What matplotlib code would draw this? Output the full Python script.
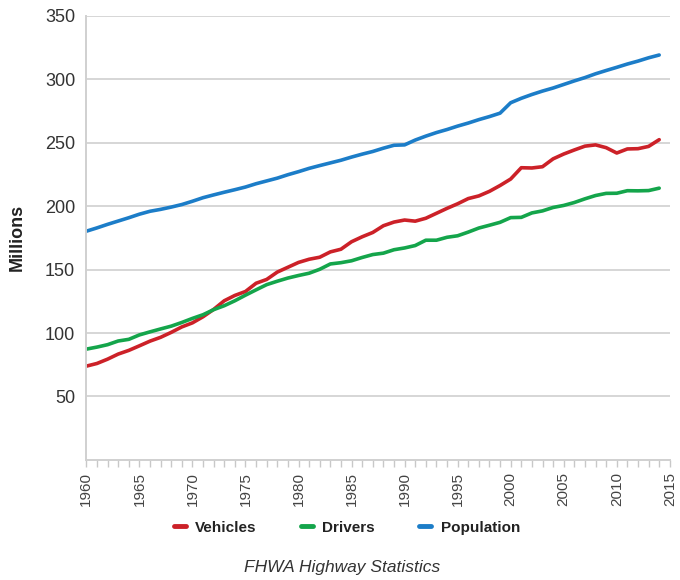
import numpy as np
import matplotlib
matplotlib.use("Agg")
import matplotlib.pyplot as plt
from matplotlib.ticker import MultipleLocator

plt.rcParams['font.family'] = ['Liberation Sans Narrow', 'Liberation Sans', 'DejaVu Sans']

# data (millions)
years = list(range(1960, 2015))

vehicles = [73.9, 76.0, 79.4, 83.4, 86.3, 89.9, 93.6, 96.6, 100.5, 104.8,
            108.0, 112.8, 118.6, 125.4, 129.6, 132.7, 139.2, 142.2, 148.0, 151.8,
            155.6, 158.1, 159.7, 163.9, 166.0, 171.9, 175.8, 179.2, 184.5, 187.4,
            189.0, 188.1, 190.4, 194.3, 198.2, 201.8, 205.9, 208.0, 211.6, 216.2,
            221.3, 230.2, 230.0, 231.0, 237.2, 241.0, 244.2, 247.2, 248.2, 246.0,
            241.8, 245.0, 245.2, 247.0, 252.3]

drivers = [87.3, 88.9, 90.8, 93.7, 95.0, 98.5, 100.9, 103.2, 105.4, 108.3,
           111.5, 114.4, 118.4, 121.5, 125.4, 129.8, 134.0, 138.1, 140.8, 143.3,
           145.3, 147.1, 150.2, 154.4, 155.4, 156.9, 159.5, 161.8, 162.9, 165.6,
           167.0, 168.9, 173.1, 173.1, 175.4, 176.6, 179.5, 182.7, 184.9, 187.2,
           190.9, 191.1, 194.6, 196.2, 198.9, 200.5, 202.8, 205.7, 208.3, 210.0,
           210.1, 212.1, 212.0, 212.2, 214.1]

population = [180.2, 182.8, 185.6, 188.2, 190.8, 193.6, 195.9, 197.4, 199.2, 201.2,
              203.8, 206.6, 208.8, 210.9, 212.9, 215.0, 217.6, 219.8, 222.0, 224.7,
              227.1, 229.7, 231.9, 234.0, 236.1, 238.6, 240.9, 243.0, 245.6, 247.9,
              248.2, 252.0, 255.1, 257.9, 260.3, 263.0, 265.4, 268.1, 270.5, 273.2,
              281.4, 284.9, 287.9, 290.6, 293.0, 295.8, 298.6, 301.2, 304.2, 306.8,
              309.3, 311.9, 314.2, 316.8, 319.0]

series = ["Vehicles", "Drivers", "Population"]
colors = ["#cc2128", "#14a54b", "#1c7dc8"]

fig = plt.figure(figsize=(6.8, 5.8), dpi=100)
ax = fig.add_axes([0.127, 0.207, 0.858, 0.766])

for name, vals, c in zip(series, [vehicles, drivers, population], colors):
    ax.plot(years, vals, color=c, lw=2.6, solid_capstyle='round', label=name)

ax.set_xlim(1960, 2015)
ax.set_ylim(0, 350)
ax.set_yticks([50, 100, 150, 200, 250, 300, 350])
ax.xaxis.set_major_locator(MultipleLocator(5))
ax.xaxis.set_minor_locator(MultipleLocator(1))
ax.grid(axis='y', color='#d6d6d6', lw=1.4)
ax.set_axisbelow(True)

for s in ['top', 'right']:
    ax.spines[s].set_visible(False)
for s in ['left', 'bottom']:
    ax.spines[s].set_color('#d0d0d0')
    ax.spines[s].set_linewidth(1.4)

ax.tick_params(axis='y', length=0, pad=8, labelsize=13, labelcolor='#333333')
ax.tick_params(axis='x', which='both', length=5, color='#c8c8c8', width=1)
ax.tick_params(axis='x', which='major', labelsize=11, labelcolor='#444444',
               labelrotation=90, pad=4)

ax.set_ylabel("Millions", fontsize=13, fontweight='bold', color='#222222', labelpad=14)

leg = fig.legend(loc='center', bbox_to_anchor=(0.51, 0.09), ncol=3, frameon=False,
                 handlelength=0.8, columnspacing=2.9, handletextpad=0.6,
                 prop={'size': 11, 'weight': 'bold'})
for t in leg.get_texts():
    t.set_color('#222222')
for h in leg.get_lines():
    h.set_linewidth(3.5)

fig.text(0.503, 0.022, "FHWA Highway Statistics", ha='center', va='center',
         fontsize=12.5, style='italic', color='#333333')

fig.savefig("out.png", dpi=100)
